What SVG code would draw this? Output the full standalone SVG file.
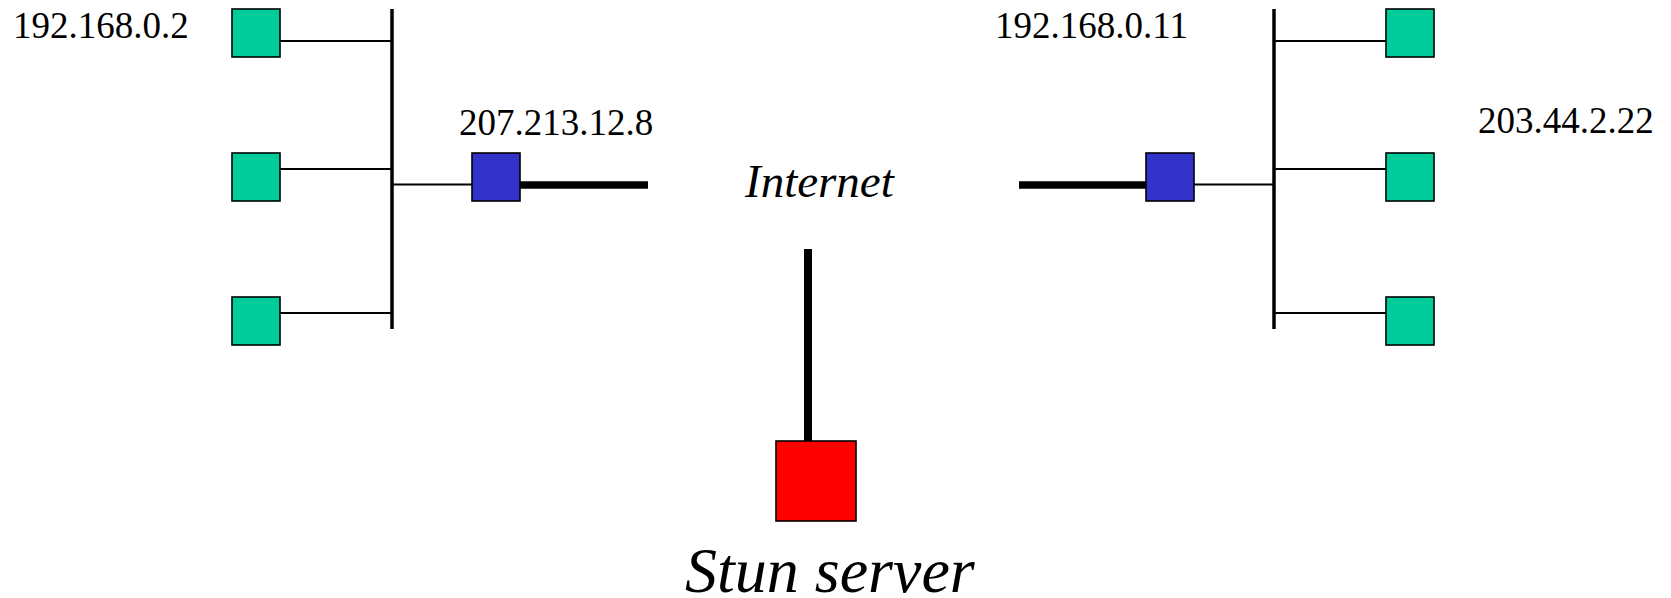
<svg xmlns="http://www.w3.org/2000/svg" width="1671" height="598" viewBox="0 0 1671 598">
<style>
.host{fill:#00cc99;stroke:#000;stroke-width:1.6}
.nat{fill:#3333cc;stroke:#000;stroke-width:1.6}
.srv{fill:#ff0000;stroke:#000;stroke-width:1.6}
.thin{stroke:#000;stroke-width:2;fill:none}
.bus{stroke:#000;stroke-width:3.5;fill:none}
.thick{stroke:#000;stroke-width:7.5;fill:none}
.ip{font-size:37px;fill:#000}
.it{font-style:italic;fill:#000}
</style>
<rect width="1671" height="598" fill="#fff"/>
<g id="connectors">
<line class="bus" x1="392" y1="9" x2="392" y2="329"/>
<line class="thin" x1="280" y1="41" x2="392" y2="41"/>
<line class="thin" x1="280" y1="169" x2="392" y2="169"/>
<line class="thin" x1="280" y1="313" x2="392" y2="313"/>
<line class="thin" x1="392" y1="184.5" x2="472" y2="184.5"/>
<line class="thick" x1="520" y1="185" x2="648" y2="185"/>
<line class="bus" x1="1274" y1="9" x2="1274" y2="329"/>
<line class="thin" x1="1274" y1="41" x2="1386" y2="41"/>
<line class="thin" x1="1274" y1="169" x2="1386" y2="169"/>
<line class="thin" x1="1274" y1="313" x2="1386" y2="313"/>
<line class="thin" x1="1194" y1="184.5" x2="1274" y2="184.5"/>
<line class="thick" x1="1019" y1="185" x2="1146" y2="185"/>
<line x1="808" y1="249" x2="808" y2="441" stroke="#000" stroke-width="8"/>
</g>
<g id="host-l1"><rect class="host" x="232" y="9" width="48" height="48"/></g>
<g id="host-l2"><rect class="host" x="232" y="153" width="48" height="48"/></g>
<g id="host-l3"><rect class="host" x="232" y="297" width="48" height="48"/></g>
<g id="nat-l"><rect class="nat" x="472" y="153" width="48" height="48"/></g>
<g id="host-r1"><rect class="host" x="1386" y="9" width="48" height="48"/></g>
<g id="host-r2"><rect class="host" x="1386" y="153" width="48" height="48"/></g>
<g id="host-r3"><rect class="host" x="1386" y="297" width="48" height="48"/></g>
<g id="nat-r"><rect class="nat" x="1146" y="153" width="48" height="48"/></g>
<g font-family="Liberation Serif, DejaVu Serif, serif">
<g id="stun"><rect class="srv" x="776" y="441" width="80" height="80"/>
<text class="it" x="685" y="592" font-size="64">Stun server</text></g>
<g id="internet"><text class="it" x="745" y="197" font-size="47">Internet</text></g>
<g id="labels">
<text class="ip" x="13" y="38">192.168.0.2</text>
<text class="ip" x="459" y="135">207.213.12.8</text>
<text class="ip" x="995" y="38">192.168.0.11</text>
<text class="ip" x="1478" y="133">203.44.2.22</text>
</g>
</g>
</svg>
